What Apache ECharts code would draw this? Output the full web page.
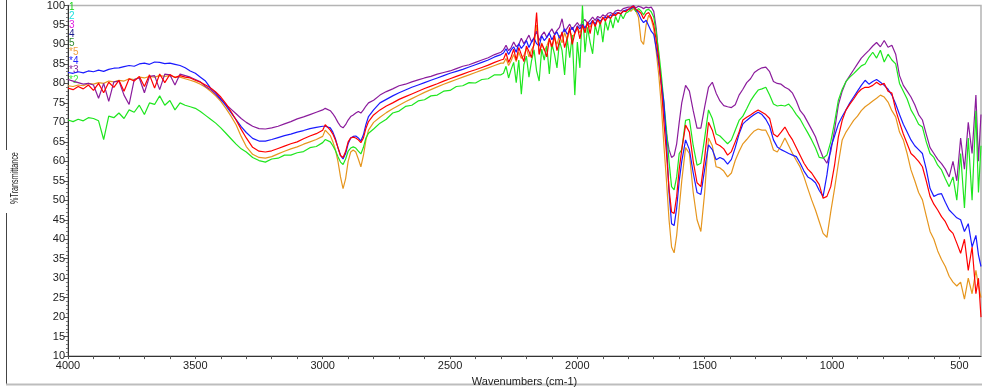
<!DOCTYPE html>
<html><head><meta charset="utf-8">
<script src="https://cdn.jsdelivr.net/npm/echarts@6/dist/echarts.min.js"></script>
<style>html,body{margin:0;padding:0;background:#fff}#c{width:982px;height:392px}</style>
</head><body><div id="c"></div>
<script>
// Shared wavenumber sampling grid (cm-1)
const wavenumbers = [
  4000,3980,3960,3940,3920,3900,3880,3860,3840,3820,3800,3780,3760,3740,3720,3700,3680,3660,3640,3620,3600,3580,3560,3540,3520,3500,3480,3460,3440,3420,3400,3380,3360,3340,3320,3300,
  3275,3250,3225,3200,3175,3150,3125,3100,3075,3050,3025,3000,
  2990,2970,2960,2950,2940,2930,2920,2910,2900,2890,2880,2870,2860,2850,2840,2830,2820,2800,
  2775,2750,2725,2700,2675,2650,2625,2600,2575,2550,2525,2500,2475,2450,2425,2400,2375,2350,2325,2300,
  2290,2280,2270,2260,2250,2240,2230,2220,2210,2200,2190,2180,2170,2160,2150,2140,2130,2120,2110,2100,
  2090,2080,2070,2060,2050,2040,2030,2020,2010,2000,1990,1980,1970,1960,1950,1940,1930,1920,1910,1900,
  1890,1880,1870,1860,1850,1840,1830,1820,1810,1800,
  1790,1780,1770,1760,1750,1740,1730,1720,1710,1700,1690,1680,1670,1660,1650,1640,1630,1620,1610,1600,
  1590,1575,1560,1545,1530,1515,1500,1485,1470,1455,1440,1425,1410,1395,1380,1365,1350,1335,1320,1305,
  1290,1275,1260,1245,1230,1215,1200,1185,1170,1155,1140,1125,1110,1095,1080,1065,1050,1035,1020,1005,
  990,975,960,945,930,915,900,885,870,855,840,825,810,795,780,765,750,735,720,705,
  690,675,660,645,630,615,600,585,570,555,540,525,510,495,480,465,450,435,425,415
];

const spectrumBlue = [
  82.8,82.6,83.0,82.7,83.2,83.0,83.4,83.1,83.6,83.9,84.0,84.3,84.6,84.4,85.0,85.2,84.9,85.5,85.4,85.1,85.2,84.9,84.6,84.0,83.2,82.6,81.6,80.6,78.8,77.6,76.0,74.3,72.5,70.7,68.9,67.4,
  65.9,65.2,65.2,65.6,66.1,66.6,67.0,67.5,67.9,68.4,68.7,69.0,
  69.0,68.6,67.5,65.8,63.5,61.5,60.6,62.0,64.5,66.0,66.4,66.5,66.0,65.2,66.8,69.5,71.5,73.2,
  75.0,75.9,76.8,77.6,78.3,79.0,79.6,80.2,80.8,81.4,82.0,82.6,83.1,83.6,84.2,84.8,85.4,86.0,86.8,87.4,
  87.8,88.9,87.4,88.6,89.4,88.0,90.2,89.0,89.8,91.0,89.2,90.6,91.6,90.2,89.6,92.2,91.0,91.8,92.9,91.2,
  92.4,93.2,91.6,92.8,94.0,92.6,93.4,94.4,93.0,94.8,94.0,95.2,94.2,95.6,95.2,96.2,95.2,96.6,96.0,96.6,
  97.0,96.8,97.6,97.4,98.0,98.2,97.8,98.6,98.8,99.0,
  99.2,99.6,99.0,98.0,96.5,95.6,96.2,94.8,93.4,92.6,89.0,85.0,80.0,75.0,65.0,52.0,44.0,43.5,48.0,55.0,
  60,65.5,63,57,52,51.5,58,64.2,63,60.4,61,60.5,59.3,60.5,63.5,67,69.6,70.5,71.3,72,
  72.6,72,70.8,69,65.5,63.7,63,62.5,62,61.6,61.2,59.5,57.5,56,55.4,54.5,52.5,51,56.5,63.5,
  66.5,69.6,71.5,73.2,75,76.5,78,79.5,80.8,79.8,80.5,81,80.3,79.5,78.5,77,74.7,72,69.5,67.5,
  65.5,64,63,62,58,53,51,51.5,51.7,49.5,47.5,46.5,45.5,45,42,44,38,41,36,33
];

const spectrumRed = [
  78.8,78.4,79.2,78.6,79.6,78.2,80.0,77.6,80.3,79.0,80.8,78.0,81.2,80.6,81.8,79.2,82.2,78.8,82.4,80.2,82.3,81.5,82.0,81.6,81.4,80.8,80.3,79.6,78.8,77.8,76.5,74.8,72.8,70.6,68.2,66.0,
  63.6,62.6,62.4,62.7,63.3,63.9,64.5,65.0,65.8,66.5,67.1,68.0,
  69.4,68.0,67.0,65.5,63.5,61.5,61.0,62.5,65.0,66.0,66.2,66.0,65.5,64.8,66.0,68.5,70.2,71.9,
  73.2,74.2,75.0,75.9,76.6,77.3,78.0,78.7,79.3,79.9,80.6,81.2,81.8,82.4,83.0,83.5,84.1,84.7,85.4,86.0,
  86.2,87.8,85.4,86.8,88.8,86.0,89.2,87.4,85.6,89.6,88.2,86.6,90.4,98.2,87.4,90.2,88.8,86.8,91.6,89.4,
  92.4,88.4,90.8,93.2,89.2,91.6,94.4,90.0,92.8,94.6,91.4,95.0,93.0,95.8,92.8,96.2,94.6,96.4,95.2,97.0,
  96.0,97.4,96.6,97.8,97.4,98.2,97.8,98.6,98.4,99.0,
  99.4,99.8,99.0,98.6,98.0,96.6,97.8,98.2,97.0,95.0,91.0,86.0,79.0,70.0,62.0,53.0,47.0,46.6,51.0,58.0,
  63,69.3,67.5,60,54.5,53.5,61,70,68,64.5,64,63.2,61.6,62.5,65,67.5,70.6,71.3,71.9,72.6,
  73.2,72.6,72,71,67,66.3,67.5,68.8,67,65.5,63.5,61.5,59.5,58,57,55.5,54,50.5,51,53.5,
  59,66.3,70.5,73.2,74.7,76,77.5,78.5,79,79,79.5,80.3,79.6,80,78,77.5,73.2,70,67,64.5,
  62,61.1,60,58.6,55,51,49,47.5,45.8,44.5,42.5,41.5,39,36.4,40,32,38,26,30,20
];

const spectrumPurple = [
  81.0,80.6,80.2,79.8,80.0,79.6,76.2,80.0,75.4,80.4,80.6,77.0,74.6,81.0,81.4,77.6,81.8,82.0,78.4,82.4,82.2,79.6,82.4,82.0,81.6,81.0,80.4,79.2,78.4,77.2,75.8,74.6,73.4,72.2,71.0,70.0,
  69.0,68.4,68.3,68.6,69.0,69.6,70.2,70.9,71.4,72.0,72.6,73.2,
  73.6,73.0,72.2,71.2,70.0,69.0,68.6,69.4,70.6,71.5,71.9,72.4,72.8,72.4,73.2,74.2,75.0,75.7,
  77.0,77.9,78.6,79.4,79.8,80.4,80.9,81.4,81.8,82.4,82.8,83.2,83.8,84.4,84.8,85.4,86.0,86.6,87.4,88.0,
  88.6,89.8,88.4,89.2,90.6,89.4,90.0,91.6,90.2,91.2,92.4,90.6,91.8,93.4,91.0,92.4,93.2,91.8,93.0,94.0,
  92.6,93.6,94.4,96.6,93.2,94.2,95.2,93.8,94.8,95.6,94.6,95.8,96.4,95.4,96.2,97.0,96.2,97.2,96.8,97.6,
  97.2,98.0,98.2,97.8,98.6,98.8,98.6,99.2,99.4,99.6,
  99.6,100,99.4,99.8,99.6,99.2,99.6,99.4,99.6,98.5,94,86,80,73,67,63,61,61.5,64.5,70,
  75,79.5,78,73,68.5,68.5,74,79,80.3,77.5,75.5,74.3,74,73.8,74.5,77,78.5,80.2,81.2,82.8,
  83.5,84,84.2,83,80.5,80,79.8,79,78.5,77.5,75.5,73,71.8,70,68.2,66.3,63.5,61,59.5,62.5,
  68,74.5,78,80.5,82,83.5,85,86.5,87.5,88.5,89.6,90.5,89.4,91,89.3,89.8,87.5,82,79.5,78,
  76.5,74.5,72,70.6,67,63.5,62,60.5,59.4,58,56,60,55,66,58,70,62,77,60,72
];

const spectrumGreen = [
  70.6,70.2,70.8,70.4,71.2,71.0,70.4,65.6,71.6,71.2,72.4,71.0,73.2,72.6,74.4,72.0,75.0,74.6,76.8,74.4,75.6,73.2,75.0,74.4,74.0,73.6,72.8,71.8,70.8,69.8,68.6,67.2,65.8,64.4,63.2,62.4,
  61.0,60.2,59.8,60.6,60.8,61.6,61.6,62.2,62.5,63.5,63.8,64.8,
  65.6,65.0,64.0,62.8,61.2,59.8,59.2,60.6,62.6,63.4,63.7,63.4,62.6,61.9,63.6,66.0,67.2,68.3,
  69.8,70.8,72.4,72.9,74.1,74.4,75.5,75.8,76.8,77.0,78.0,78.2,79.2,79.4,80.2,80.1,81.0,81.2,82.2,82.2,
  82.6,84.4,81.4,83.6,85.4,80.2,86.0,77.2,84.8,87.0,81.6,85.8,88.6,83.2,80.6,88.8,86.0,89.6,82.4,90.2,
  87.6,84.0,91.0,88.4,82.2,91.6,86.6,92.4,77.0,90.6,84.0,100.0,88.0,94.4,90.6,87.6,95.0,92.4,95.8,90.6,
  96.0,93.6,96.6,94.2,97.2,95.6,97.8,96.6,98.0,98.4,
  99.0,99.6,98.4,99.2,98.6,97.6,98.8,99.0,98.4,97.0,93.0,88.0,82.0,75.0,68.0,60.0,53.5,52.7,56.0,62.0,
  63,70.5,70.8,64,59,59.5,66,73.2,71,67,66.5,65.5,64.5,65.5,68,70.5,71.6,73.5,75.5,77,
  78.3,78.6,79,77,74.7,74.2,74.4,74.2,74.7,73.5,72,70.8,69,67.3,65.5,63.5,61,60.8,61.6,65,
  70,75.7,78.5,80.5,81.6,82.5,83.5,84.5,85,86.7,88.0,86.5,88.5,85.5,87.5,86,85,80,78,76,
  73.2,71.5,69.5,68.8,65,62,61,59,57.8,55.5,53.5,56,50,62,48,66,50,73,52,64
];

const spectrumOrange = [
  79.4,79.2,79.6,79.4,80.0,79.8,80.2,80.0,80.6,80.4,80.8,80.6,81.2,81.0,81.6,81.4,81.8,81.6,82.0,81.8,82.0,81.6,81.6,81.2,80.8,80.4,79.8,79.0,78.0,76.8,75.4,73.6,71.6,69.4,66.4,63.8,
  61.8,61.0,60.8,61.2,61.9,62.6,63.2,63.7,64.4,65.0,65.6,66.4,
  68.0,66.6,65.0,63.0,60.0,56.0,53.0,55.5,60.0,62.4,62.9,62.4,60.6,58.6,61.5,65.5,68.0,70.0,
  71.3,72.5,73.5,74.4,75.3,76.1,76.9,77.7,78.4,79.1,79.8,80.4,81.0,81.6,82.2,82.8,83.4,84.0,84.6,85.2,
  85.2,86.4,84.6,85.8,87.4,85.6,88.0,86.4,87.2,89.0,86.8,88.6,89.8,95.0,87.6,90.4,88.4,89.6,91.4,88.8,
  91.8,90.0,92.4,90.4,93.0,91.2,93.6,91.8,92.8,94.2,93.0,94.8,93.8,95.4,94.4,96.0,95.0,96.4,95.8,96.8,
  96.4,97.2,96.8,97.6,97.6,98.0,98.0,98.4,98.6,99.0,
  98.5,99.2,98.6,97.0,91.0,90.0,95.0,97.5,96.5,94.0,88.0,82.0,74.0,64.0,55.0,45.0,38.0,36.5,41.0,48.0,
  55,63.5,62,52,45,42,52,66,64,58.6,58.3,57.5,56,57,60.2,62.5,64.5,65.6,66.8,67.8,
  68.3,68,68,66,62.9,62.4,64,66,64,62,60.2,58.5,56,53,50.1,47.5,44.5,41.5,40.5,47,
  53,59.5,65.5,67.5,69,70.5,71.6,73,74,74.7,75.5,76.2,77,76.5,75.2,73,71.4,67.5,65.5,62,
  57.8,55,52,50.1,46,42,40,37,34.8,33,30.5,29,28,29,24.6,30,26,32,28,25
];

const xTickLabels = [4000,3500,3000,2500,2000,1500,1000,500];
const xTicks = [4000,3900,3800,3700,3600,3500,3400,3300,3200,3100,3000,2900,2800,2700,2600,2500,2400,2300,2200,2100,2000,1900,1800,1700,1600,1500,1400,1300,1200,1100,1000,900,800,700,600,500];
const legendLabels = ['1','2','3','4','5','*5','*4','*3','*2'];
const legendColors = ['#19d219','#22e0e0','#e020e0','#1a1a8c','#2e8b2e','#f0a040','#2424ff','#8e2aa0','#3cf03c'];
const xAxisTitle = 'Wavenumbers (cm-1)';
const yAxisTitle = '%Transmittance';

const seriesDefs = [
  {name:'*5', data: spectrumOrange, color:'#e6961e'},
  {name:'*3', data: spectrumPurple, color:'#8b1c9c'},
  {name:'*2', data: spectrumGreen, color:'#1ee61e'},
  {name:'*4', data: spectrumBlue, color:'#1a1aff'},
  {name:'*1', data: spectrumRed, color:'#ff0000'}
];
seriesDefs.forEach(s => { if (s.data.length !== wavenumbers.length) console.error(s.name, s.data.length, wavenumbers.length); });

const chart = echarts.init(document.getElementById('c'), null, {renderer:'canvas'});
const legendGraphics = legendLabels.map((t, i) => ({
  type:'text', left: 69, top: 2 + i * 9.1,
  style:{text:t, fill:legendColors[i], font:'10px "Liberation Sans", Arial, sans-serif'}
}));
chart.setOption({
  animation:false,
  backgroundColor:'#ffffff',
  grid:{left:68, right:1, top:5, bottom:30, show:true, borderColor:'#b4b4b4', borderWidth:1.5},
  xAxis:{
    type:'value', inverse:true, min:415, max:4000,
    name:xAxisTitle, nameLocation:'middle', nameGap:17,
    nameTextStyle:{fontSize:11, color:'#222', fontFamily:'Liberation Sans'},
    axisLine:{show:true, onZero:false, lineStyle:{color:'#333', width:1}},
    axisTick:{show:true, customValues:xTicks, length:3, lineStyle:{color:'#555'}},
    axisLabel:{customValues:xTickLabels, formatter: v => String(v), fontSize:11, color:'#222', margin:4, fontFamily:'Liberation Sans'},
    splitLine:{show:false}
  },
  yAxis:{
    type:'value', min:10, max:100, interval:5,
    axisLine:{show:true, lineStyle:{color:'#333', width:1}},
    axisTick:{show:true, length:4, lineStyle:{color:'#555'}},
    minorTick:{show:true, splitNumber:5, length:2, lineStyle:{color:'#777'}},
    axisLabel:{formatter: v => String(v), fontSize:11, color:'#222', margin:3, fontFamily:'Liberation Sans'},
    splitLine:{show:false}
  },
  graphic: legendGraphics.concat([
    {type:'text', x:15, y:178, rotation:Math.PI/2, scaleX:0.72,
     style:{text:yAxisTitle, fill:'#222', font:'10px "Liberation Sans", Arial, sans-serif', align:'center', verticalAlign:'middle'}},
    {type:'line', shape:{x1:6.5, y1:0, x2:6.5, y2:150}, style:{stroke:'#444', lineWidth:1}},
    {type:'line', shape:{x1:6.5, y1:213, x2:6.5, y2:384}, style:{stroke:'#444', lineWidth:1}},
    {type:'line', shape:{x1:6, y1:384.5, x2:982, y2:384.5}, style:{stroke:'#bdbdbd', lineWidth:2}}
  ]),
  series: seriesDefs.map(s => ({
    type:'line', name:s.name, showSymbol:false, symbol:'none', sampling:null,
    lineStyle:{color:s.color, width:1.2}, itemStyle:{color:s.color},
    data: wavenumbers.map((w, i) => [w, s.data[i]])
  }))
});
</script></body></html>
